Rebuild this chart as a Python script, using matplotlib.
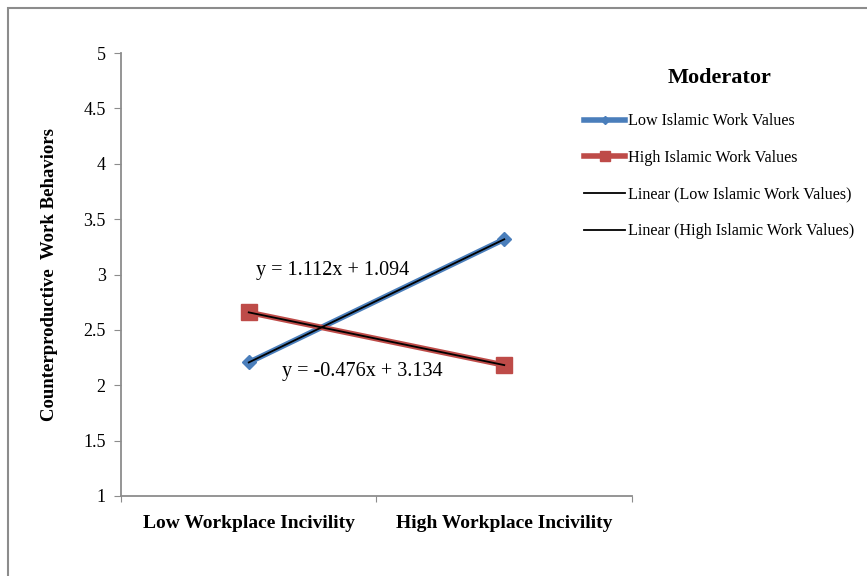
import matplotlib.pyplot as plt
from matplotlib.patches import Rectangle

plt.rcParams['font.family'] = ['Liberation Serif', 'DejaVu Serif']

# data
categories = ['Low Workplace Incivility', 'High Workplace Incivility']
low_iwv = [2.206, 3.318]
high_iwv = [2.658, 2.182]
low_fit = (1.112, 1.094)
high_fit = (-0.476, 3.134)
yticks = [1, 1.5, 2, 2.5, 3, 3.5, 4, 4.5, 5]

fig = plt.figure(figsize=(8.67, 5.76), dpi=100)
ax = fig.add_axes([121 / 867, 1 - 496 / 576, 511 / 867, 443 / 576])

# outer chart frame (cut off at right and bottom)
fig.patches.append(Rectangle((8 / 867, -0.1), 1.2, 1 - 8 / 576 + 0.1,
                             transform=fig.transFigure, fill=False,
                             edgecolor='#8c8c8c', linewidth=1.5))

x = [1, 2]
ax.plot(x, low_iwv, color='#4a7ebb', linewidth=4, marker='D', markersize=7,
        label='Low Islamic Work Values')
ax.plot(x, high_iwv, color='#be4b48', linewidth=4, marker='s', markersize=11,
        label='High Islamic Work Values')
ax.plot(x, [low_fit[0] * xi + low_fit[1] for xi in x], color='black', linewidth=1.3,
        label='Linear (Low Islamic Work Values)')
ax.plot(x, [high_fit[0] * xi + high_fit[1] for xi in x], color='black', linewidth=1.3,
        label='Linear (High Islamic Work Values)')

ax.text(1.03, 3.04, 'y = 1.112x + 1.094', fontsize=14.5, ha='left', va='center')
ax.text(1.13, 2.12, 'y = -0.476x + 3.134', fontsize=14.5, ha='left', va='center')

ax.set_xlim(0.5, 2.5)
ax.set_ylim(1, 5)
ax.set_yticks(yticks)
ax.set_yticklabels([f'{t:g}' for t in yticks], fontsize=13)
ax.set_xticks([0.5, 1.5, 2.5])
ax.set_xticklabels([])
ax.set_xticks(x, minor=True)
ax.set_xticklabels(categories, minor=True, fontsize=14, fontweight='bold')
ax.tick_params(axis='x', which='minor', length=0, pad=14)
ax.tick_params(axis='x', which='major', length=4, direction='out', color='#8c8c8c')
ax.tick_params(axis='y', length=5, direction='out', color='#8c8c8c', pad=6)

for s in ['top', 'right']:
    ax.spines[s].set_visible(False)
for s in ['left', 'bottom']:
    ax.spines[s].set_color('#8c8c8c')
    ax.spines[s].set_linewidth(1.3)

ax.set_ylabel('Counterproductive  Work Behaviors', fontsize=13.5, fontweight='bold', labelpad=18)

leg = fig.legend(loc='upper left', bbox_to_anchor=(578 / 867, 1 - 62 / 576),
                 frameon=False, fontsize=11.6, title='Moderator', markerscale=0.6,
                 handlelength=2.5, handletextpad=0.2, labelspacing=1.28,
                 borderaxespad=0)
leg.get_title().set_fontsize(16)
leg.get_title().set_fontweight('bold')
leg._legend_box.align = 'center'
leg._legend_box.sep = 18

fig.savefig('out.png', dpi=100)
